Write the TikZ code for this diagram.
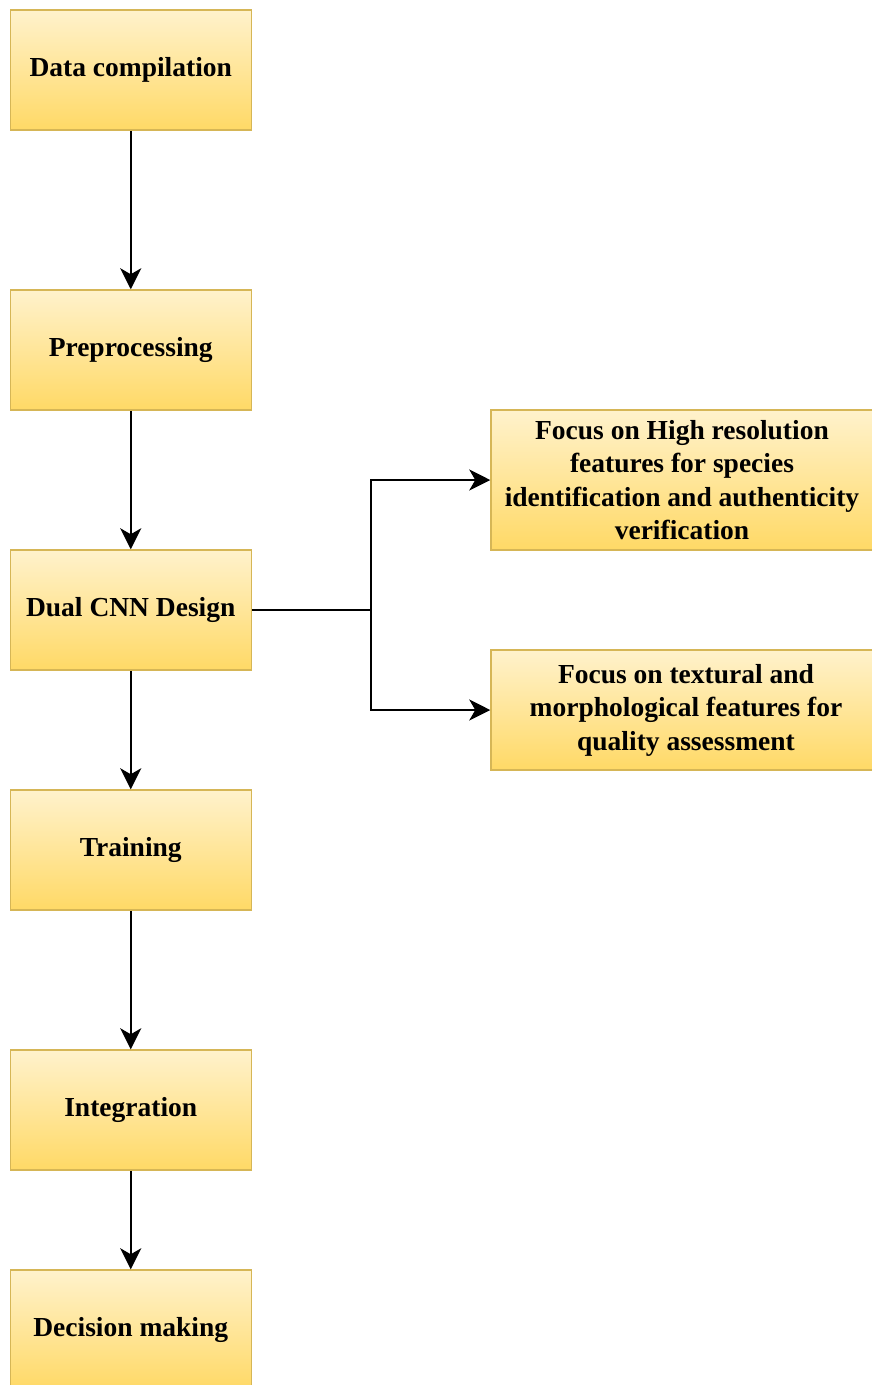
\documentclass[tikz,border=0pt]{standalone}
\usepackage{fontspec}
\setmainfont{Liberation Serif}
\usetikzlibrary{arrows.meta}
\definecolor{boxtop}{HTML}{FFF2CC}
\definecolor{boxbot}{HTML}{FFD966}
\definecolor{boxline}{HTML}{D6B656}
\tikzset{
  flowbox/.style={rectangle, draw=boxline, line width=1.5pt, top color=boxtop, bottom color=boxbot,
    minimum width=241pt, minimum height=120pt, inner sep=4pt, align=center,
    font=\fontsize{27.5}{33.5}\selectfont\bfseries},
  sidebox/.style={flowbox, minimum height=140pt},
  arr/.style={draw=black, line width=2pt, -{Stealth[length=21pt,width=21pt,inset=6pt]}},
  conn/.style={draw=black, line width=2pt}
}
\begin{document}
\begin{tikzpicture}[x=1pt,y=-1pt]
\useasboundingbox (0,0) rectangle (871,1385);
\node[flowbox] (b1) at (130.75,70) {Data compilation};
\node[flowbox] (b2) at (130.75,350) {Preprocessing};
\node[flowbox] (b3) at (130.75,610) {Dual CNN Design};
\node[flowbox] (b4) at (130.75,850) {Training};
\node[flowbox] (b5) at (130.75,1110) {Integration};
\node[flowbox] (b6) at (130.75,1330) {Decision making};
\node[sidebox, minimum width=382pt] (r1) at (682,480) {Focus on High resolution\\features for species\\identification and authenticity\\verification};
\node[flowbox, minimum width=390pt] (r2) at (686,710) {Focus on textural and\\morphological features for\\quality assessment};
\coordinate (j) at (371,610);
\draw[arr] (b1) -- (b2);
\draw[arr] (b2) -- (b3);
\draw[arr] (b3) -- (b4);
\draw[arr] (b4) -- (b5);
\draw[arr] (b5) -- (b6);
\draw[conn] (b3.east) -- (j);
\draw[arr] (j) |- (r1.west);
\draw[arr] (j) |- (r2.west);
\end{tikzpicture}
\end{document}
